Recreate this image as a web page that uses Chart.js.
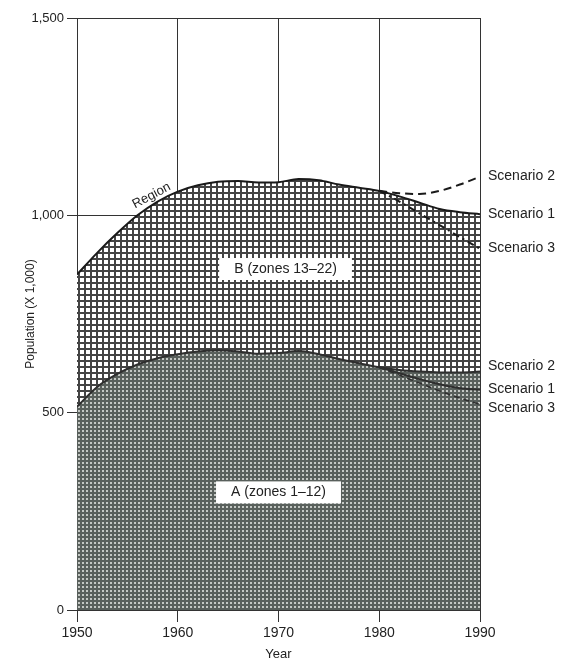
<!DOCTYPE html>
<html>
<head>
<meta charset="utf-8">
<script src="https://cdn.jsdelivr.net/npm/chart.js@4.4.0/dist/chart.umd.min.js"></script>
<style>
  html, body { margin: 0; padding: 0; background: #fff; }
</style>
</head>
<body>
<canvas id="popChart" width="565" height="667"></canvas>
<script>
  // Data (population x 1,000)
  const years = [1950, 1952, 1954, 1956, 1958, 1960, 1962, 1964, 1966, 1968, 1970, 1972, 1974, 1976, 1978, 1980];
  const regionPop = [850, 905, 955, 1000, 1035, 1060, 1076, 1085, 1087, 1083, 1084, 1092, 1089, 1078, 1070, 1062];
  const zoneAPop = [515, 565, 598, 622, 638, 648, 655, 658, 655, 649, 651, 656, 648, 636, 625, 615];

  const scenYears = [1980, 1982, 1984, 1986, 1988, 1990];
  const regionScen1 = [1062, 1048, 1032, 1016, 1008, 1003];
  const regionScen2 = [1062, 1056, 1054, 1062, 1078, 1098];
  const regionScen3 = [1062, 1035, 1005, 975, 945, 915];
  const zoneAScen1 = [615, 600, 585, 572, 562, 558];
  const zoneAScen2 = [615, 608, 604, 602, 602, 604];
  const zoneAScen3 = [615, 595, 575, 555, 537, 521];

  const yTicks = [0, 500, 1000, 1500];
  const scenLabels = ["Scenario 2", "Scenario 1", "Scenario 3"];
  const scenLabelTop = [1100, 1003, 917];
  const scenLabelLow = [618, 560, 512];

  function pts(xs, ys) { return xs.map((x, i) => ({ x: x, y: ys[i] })); }

  // fill patterns
  function gridPattern(size, bg, line, lw) {
    const c = document.createElement("canvas");
    c.width = size; c.height = size;
    const g = c.getContext("2d");
    g.fillStyle = bg;
    g.fillRect(0, 0, size, size);
    g.fillStyle = line;
    g.fillRect(0, 0, lw, size);
    g.fillRect(0, 0, size, lw);
    return g.createPattern(c, "repeat");
  }
  const ctx = document.getElementById("popChart").getContext("2d");
  const hatchB = gridPattern(6, "#ffffff", "#444444", 2);
  const hatchA = gridPattern(4, "#c4c8c4", "#59605c", 2);

  // labels drawn on top
  const labelPlugin = {
    id: "labels",
    afterDatasetsDraw(chart) {
      const c = chart.ctx;
      const xs = chart.scales.x, ys = chart.scales.y;
      c.save();
      c.fillStyle = "#222";
      c.font = "14px 'Liberation Sans', Arial, sans-serif";
      c.textBaseline = "middle";
      c.textAlign = "left";
      const lx = chart.chartArea.right + 8;
      scenLabels.forEach((t, i) => {
        c.fillText(t, lx, ys.getPixelForValue(scenLabelTop[i]));
        c.fillText(t, lx, ys.getPixelForValue(scenLabelLow[i]));
      });

      // zone boxes
      function box(text, xv, yv) {
        const x = xs.getPixelForValue(xv), y = ys.getPixelForValue(yv);
        const w = c.measureText(text).width + 30;
        c.fillStyle = "#fff";
        c.fillRect(x - w / 2, y - 11, w, 22);
        c.fillStyle = "#222";
        c.textAlign = "center";
        c.fillText(text, x, y);
      }
      box("B (zones 13\u201322)", 1970.7, 864);
      box("A (zones 1\u201312)", 1970.0, 298);

      // Region label along curve
      c.translate(xs.getPixelForValue(1957.4), ys.getPixelForValue(1050));
      c.rotate(-28 * Math.PI / 180);
      c.font = "13px 'Liberation Sans', Arial, sans-serif";
      c.fillText("Region", 0, 0);
      c.restore();
    }
  };

  const popChart = new Chart(ctx, {
    type: "line",
    data: {
      datasets: [
        { label: "Region", order: 2, data: pts(years.concat(scenYears.slice(1)), regionPop.concat(regionScen1.slice(1))),
          borderColor: "#1a1a1a", borderWidth: 2, pointRadius: 0, fill: { target: 1 }, backgroundColor: hatchB },
        { label: "Zone A", order: 1, data: pts(years.concat(scenYears.slice(1)), zoneAPop.concat(zoneAScen2.slice(1))),
          borderColor: "#2e2e2e", borderWidth: 2, pointRadius: 0, fill: "origin", backgroundColor: hatchA },
        { label: "Region S2", order: 0, data: pts(scenYears, regionScen2), borderColor: "#1a1a1a", borderWidth: 2,
          borderDash: [8, 5], pointRadius: 0, fill: false },
        { label: "Region S3", order: 0, data: pts(scenYears, regionScen3), borderColor: "#1a1a1a", borderWidth: 2,
          borderDash: [7, 4, 2, 4], pointRadius: 0, fill: false },
        { label: "A S1", order: 0, data: pts(scenYears, zoneAScen1), borderColor: "#2e2e2e", borderWidth: 2,
          pointRadius: 0, fill: false },
        { label: "A S3", order: 0, data: pts(scenYears, zoneAScen3), borderColor: "#2e2e2e", borderWidth: 1.5,
          borderDash: [6, 4], pointRadius: 0, fill: false }
      ]
    },
    options: {
      responsive: false,
      animation: false,
      devicePixelRatio: 1,
      layout: { padding: { top: 18, right: 85, left: 0, bottom: 0 } },
      elements: { line: { tension: 0.4, cubicInterpolationMode: "monotone" } },
      plugins: { legend: { display: false }, tooltip: { enabled: false } },
      scales: {
        x: {
          type: "linear", min: 1950, max: 1990,
          afterFit: (s) => { s.height = 57; },
          ticks: { stepSize: 10, padding: 3, color: "#222", maxRotation: 0,
                   font: { size: 14, family: "'Liberation Sans', Arial, sans-serif" },
                   callback: (v) => String(v) },
          grid: { color: "#333", lineWidth: 1, tickLength: 12, tickColor: "#333" },
          border: { color: "#333", width: 1 },
          title: { display: true, text: "Year", color: "#222", padding: { bottom: 5, top: 0 },
                   font: { size: 13, family: "'Liberation Sans', Arial, sans-serif" } }
        },
        y: {
          min: 0, max: 1500,
          afterFit: (s) => { s.width = 77; },
          afterBuildTicks: (s) => { s.ticks = yTicks.map((v) => ({ value: v })); },
          ticks: { padding: 3, color: "#222",
                   font: { size: 13, family: "'Liberation Sans', Arial, sans-serif" },
                   callback: (v) => v.toLocaleString("en-US") },
          grid: { color: "#333", lineWidth: 1, tickLength: 10, tickColor: "#333" },
          border: { color: "#333", width: 1 },
          title: { display: true, text: "Population (X 1,000)", color: "#222", padding: { top: 23, bottom: 0 },
                   font: { size: 12, family: "'Liberation Sans', Arial, sans-serif" } }
        }
      }
    },
    plugins: [labelPlugin]
  });
</script>
</body>
</html>
